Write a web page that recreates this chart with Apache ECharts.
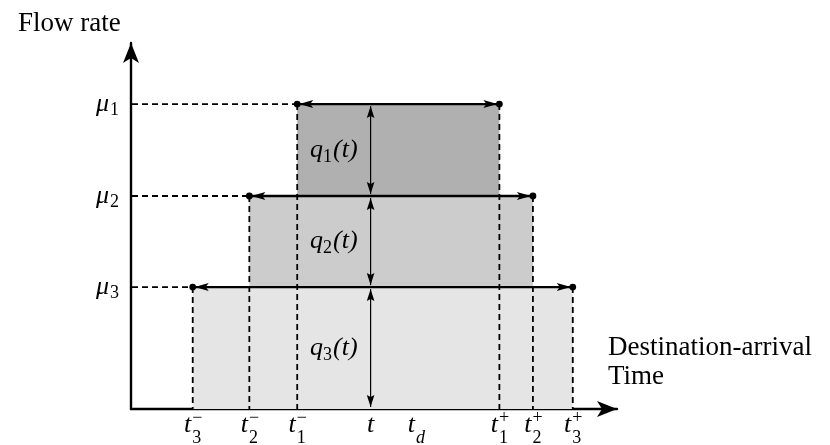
<!DOCTYPE html>
<html>
<head>
<meta charset="utf-8">
<script src="https://cdn.jsdelivr.net/npm/echarts@6/dist/echarts.min.js"></script>
<style>
  html, body { margin: 0; padding: 0; background: #fff; }
  #chart { width: 830px; height: 445px; }
</style>
</head>
<body>
<div id="chart"></div>
<script>
// levels, top to bottom
const levels = ['1', '2', '3']
const mu = [83.3, 58.2, 33.3]            // flow rate of each level
const tMinus = [34.2, 24.35, 12.7]       // t_i^-
const tPlus = [75.8, 82.7, 90.9]         // t_i^+
const tNow = 49.3
const tDest = 58.6
const fills = ['#b0b0b0', '#cccccc', '#e5e5e5']

// tick labels on the time axis
const xLabelValues = [tMinus[2], tMinus[1], tMinus[0], tNow, tDest, tPlus[0], tPlus[1], tPlus[2]]
const xLabelSub = ['3', '2', '1', '', 'd', '1', '2', '3']
const xLabelSup = ['\u2212', '\u2212', '\u2212', '', '', '+', '+', '+']

const xMax = 100
const yMax = 100

const SERIF = '"Liberation Serif", "DejaVu Serif", serif'
const MATH = 'italic 26px ' + SERIF
const SUB = '18px ' + SERIF
const SUBI = 'italic 18px ' + SERIF

const measureCtx = document.createElement('canvas').getContext('2d')
const textWidth = (text, font) => {
  measureCtx.font = font
  return measureCtx.measureText(text).width
}

const txt = (text, x, y, font, align) => ({
  type: 'text',
  style: { text, x, y, font, fill: '#000', align: align || 'left', verticalAlign: 'middle' }
})

const arrowHead = (tx, ty, dx, dy, len, half, notch) => {
  const bx = tx - dx * len
  const by = ty - dy * len
  const px = -dy
  const py = dx
  return {
    type: 'polygon',
    shape: {
      points: [
        [tx, ty],
        [bx + px * half, by + py * half],
        [tx - dx * (len - notch), ty - dy * (len - notch)],
        [bx - px * half, by - py * half]
      ]
    },
    style: { fill: '#000' }
  }
}

const dashed = (x1, y1, x2, y2) => ({
  type: 'line',
  shape: { x1, y1, x2, y2 },
  style: { stroke: '#000', lineWidth: 1.8, lineDash: [6, 4] }
})

const renderDiagram = (params, api) => {
  const children = []
  const origin = api.coord([0, 0])

  // shaded bands
  for (let i = levels.length - 1; i >= 0; i--) {
    const lower = i < levels.length - 1 ? mu[i + 1] : 0
    const p1 = api.coord([tMinus[i], mu[i]])
    const p2 = api.coord([tPlus[i], lower])
    children.push({
      type: 'rect',
      shape: { x: p1[0], y: p1[1], width: p2[0] - p1[0], height: p2[1] - p1[1] },
      style: { fill: fills[i] }
    })
  }

  // dashed guides
  for (let i = 0; i < levels.length; i++) {
    const a = api.coord([tMinus[i], mu[i]])
    const b = api.coord([tPlus[i], mu[i]])
    children.push(dashed(origin[0] + 1, a[1], a[0], a[1]))
    children.push(dashed(a[0], a[1], a[0], origin[1]))
    children.push(dashed(b[0], b[1], b[0], origin[1]))
  }

  // double arrows between t_i^- and t_i^+
  for (let i = 0; i < levels.length; i++) {
    const a = api.coord([tMinus[i], mu[i]])
    const b = api.coord([tPlus[i], mu[i]])
    children.push({
      type: 'line',
      shape: { x1: a[0], y1: a[1], x2: b[0], y2: b[1] },
      style: { stroke: '#000', lineWidth: 2.4 }
    })
    children.push(arrowHead(a[0] + 2, a[1], -1, 0, 14, 4, 3))
    children.push(arrowHead(b[0] - 2, b[1], 1, 0, 14, 4, 3))
    children.push({ type: 'circle', shape: { cx: a[0], cy: a[1], r: 3.4 }, style: { fill: '#000' } })
    children.push({ type: 'circle', shape: { cx: b[0], cy: b[1], r: 3.4 }, style: { fill: '#000' } })
  }

  // queue arrows at t
  for (let i = 0; i < levels.length; i++) {
    const lower = i < levels.length - 1 ? mu[i + 1] : 0
    const top = api.coord([tNow, mu[i]])
    const bot = api.coord([tNow, lower])
    const y1 = top[1] + 2
    const y2 = bot[1] - 2
    children.push({
      type: 'line',
      shape: { x1: top[0], y1, x2: top[0], y2 },
      style: { stroke: '#000', lineWidth: 1.2 }
    })
    children.push(arrowHead(top[0], y1, 0, -1, 12, 3.8, 2))
    children.push(arrowHead(top[0], y2, 0, 1, 12, 3.8, 2))

    // q_i(t) label
    const cy = (y1 + y2) / 2
    const right = top[0] - 13
    const wTail = textWidth('(t)', MATH)
    const wSub = textWidth(levels[i], SUB)
    children.push(txt('(t)', right, cy, MATH, 'right'))
    children.push(txt(levels[i], right - wTail - 1, cy + 7, SUB, 'right'))
    children.push(txt('q', right - wTail - wSub - 1, cy, MATH, 'right'))
  }

  // mu labels
  for (let i = 0; i < levels.length; i++) {
    const p = api.coord([0, mu[i]])
    const right = p[0] - 12
    const wSub = textWidth(levels[i], SUB)
    children.push(txt(levels[i], right, p[1] + 6, SUB, 'right'))
    children.push(txt('\u03bc', right - wSub - 1, p[1], MATH, 'right'))
  }

  // time tick labels
  for (let k = 0; k < xLabelValues.length; k++) {
    const p = api.coord([xLabelValues[k], 0])
    const wMain = textWidth('t', MATH)
    const sub = xLabelSub[k]
    const sup = xLabelSup[k]
    const wSide = Math.max(textWidth(sub, sub === 'd' ? SUBI : SUB), textWidth(sup, SUB))
    const left = p[0] - (wMain + wSide) / 2
    children.push(txt('t', left, p[1] + 16, MATH, 'left'))
    if (sub) children.push(txt(sub, left + wMain + 1, p[1] + 29, sub === 'd' ? SUBI : SUB, 'left'))
    if (sup) children.push(txt(sup, left + wMain + 1, p[1] + 9, SUB, 'left'))
  }

  return { type: 'group', children }
}

const chart = echarts.init(document.getElementById('chart'))

chart.setOption({
  animation: false,
  backgroundColor: '#fff',
  grid: { left: 131, top: 43, width: 486, height: 366 },
  xAxis: {
    type: 'value',
    min: 0,
    max: xMax,
    axisLine: {
      show: true,
      symbol: ['none', 'arrow'],
      symbolSize: [12, 20],
      lineStyle: { color: '#000', width: 2.4 }
    },
    axisTick: {
      show: true,
      inside: true,
      length: 5,
      customValues: [tDest],
      lineStyle: { color: '#000', width: 1.5 }
    },
    axisLabel: { show: false },
    splitLine: { show: false }
  },
  yAxis: {
    type: 'value',
    min: 0,
    max: yMax,
    axisLine: {
      show: true,
      symbol: ['none', 'arrow'],
      symbolSize: [12, 20],
      lineStyle: { color: '#000', width: 2.4 }
    },
    axisTick: { show: false },
    axisLabel: { show: false },
    splitLine: { show: false }
  },
  graphic: [
    { type: 'text', style: { text: 'Flow rate', x: 18, y: 24, font: '27px ' + SERIF, fill: '#000', verticalAlign: 'middle' } },
    { type: 'text', style: { text: 'Destination-arrival', x: 608, y: 348, font: '27px ' + SERIF, fill: '#000', verticalAlign: 'middle' } },
    { type: 'text', style: { text: 'Time', x: 608, y: 377, font: '27px ' + SERIF, fill: '#000', verticalAlign: 'middle' } }
  ],
  series: [
    {
      type: 'custom',
      coordinateSystem: 'cartesian2d',
      silent: true,
      data: [[0, 0]],
      renderItem: renderDiagram
    }
  ]
})
</script>
</body>
</html>
